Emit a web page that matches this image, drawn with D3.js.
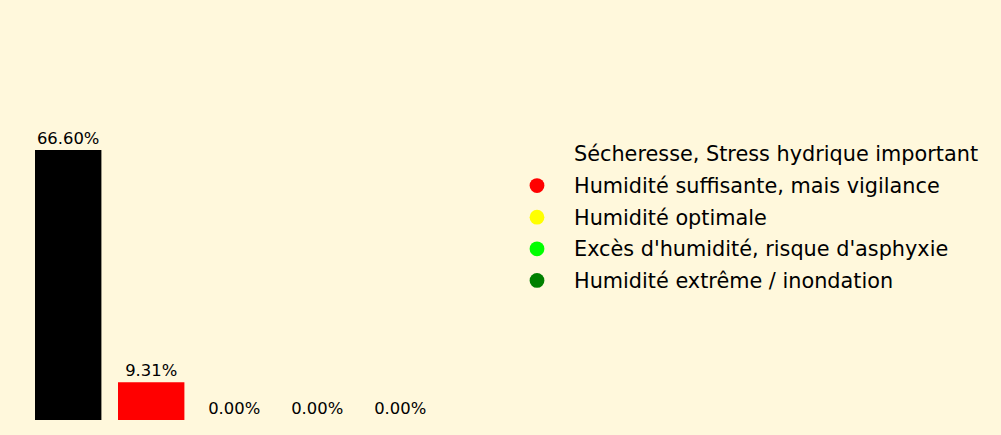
<!DOCTYPE html>
<html>
<head>
<meta charset="utf-8">
<script src="https://cdn.jsdelivr.net/npm/d3@7"></script>
<style>
  html, body { margin: 0; padding: 0; background: #fff8dc; }
  svg { display: block; }
  text { font-family: "DejaVu Sans", sans-serif; fill: #000; }
</style>
</head>
<body>
<svg id="chart" width="1001" height="435"></svg>
<script>
const categories = [
  "Sécheresse, Stress hydrique important",
  "Humidité suffisante, mais vigilance",
  "Humidité optimale",
  "Excès d'humidité, risque d'asphyxie",
  "Humidité extrême / inondation"
];
const values = [66.60, 9.31, 0.00, 0.00, 0.00];
const colors = ["#000000", "#ff0000", "#ffff00", "#00ff00", "#008000"];
const legendMarkerColors = ["#fff8dc", "#ff0000", "#ffff00", "#00ff00", "#008000"];

const W = 1001, H = 435;
const svg = d3.select("#chart");
svg.append("rect").attr("width", W).attr("height", H).attr("fill", "#fff8dc");

const x = d3.scaleBand()
  .domain(d3.range(categories.length))
  .range([26.7, 441.7])
  .paddingInner(0.2)
  .paddingOuter(0.1);

const y = d3.scaleLinear().domain([0, 100]).range([420, 14.6]);

const g = svg.append("g");
g.selectAll("rect.bar")
  .data(values)
  .join("rect")
  .attr("class", "bar")
  .attr("x", (d, i) => x(i))
  .attr("width", x.bandwidth())
  .attr("y", d => y(d))
  .attr("height", d => y(0) - y(d))
  .attr("fill", (d, i) => colors[i]);

g.selectAll("text.val")
  .data(values)
  .join("text")
  .attr("class", "val")
  .attr("x", (d, i) => x(i) + x.bandwidth() / 2)
  .attr("y", d => y(d) - 6.5)
  .attr("text-anchor", "middle")
  .style("font-size", "16.4px")
  .text(d => d.toFixed(2) + "%");

const leg = svg.append("g").attr("transform", "translate(537,154)");
const rows = leg.selectAll("g.row")
  .data(categories)
  .join("g")
  .attr("class", "row")
  .attr("transform", (d, i) => `translate(0, ${i * 31.6})`);
rows.append("circle")
  .attr("r", 7.4)
  .attr("cx", 0)
  .attr("cy", 0)
  .attr("fill", (d, i) => legendMarkerColors[i]);
rows.append("text")
  .attr("x", 37)
  .attr("y", 7.3)
  .style("font-size", "20.8px")
  .text(d => d);
</script>
</body>
</html>
